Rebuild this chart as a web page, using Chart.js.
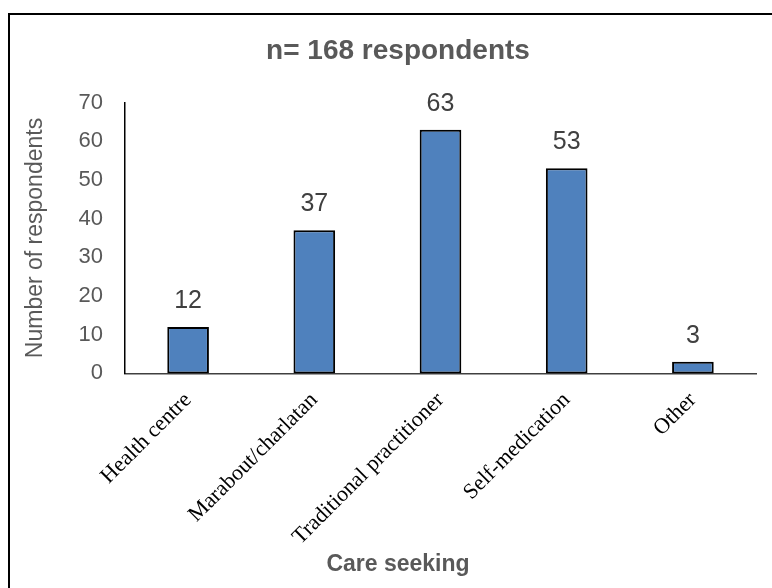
<!DOCTYPE html>
<html>
<head>
<meta charset="utf-8">
<title>Care seeking</title>
<script src="https://cdn.jsdelivr.net/npm/chart.js@4.4.1/dist/chart.umd.min.js"></script>
<style>
  html, body { margin: 0; padding: 0; background: #fff; overflow: hidden; }
  #wrap { position: relative; width: 772px; height: 588px; overflow: hidden; }
  #frame {
    position: absolute; left: 8px; top: 13px; width: 900px; height: 700px;
    border: 2px solid #000; pointer-events: none;
  }
  canvas { position: absolute; left: 0; top: 0; }
</style>
</head>
<body>
<div id="wrap">
  <canvas id="careChart" width="796" height="588"></canvas>
  <div id="frame"></div>
</div>
<script>
// Care seeking behaviour, n = 168
const categories = ['Health centre', 'Marabout/charlatan', 'Traditional practitioner', 'Self-medication', 'Other'];
const respondents = [12, 37, 63, 53, 3];
const yTicks = [0, 10, 20, 30, 40, 50, 60, 70];

const GRAY = '#595959';
const SANS = "'Liberation Sans', Arial, sans-serif";
const SERIF = "'Liberation Serif', 'Times New Roman', serif";

// value printed above each bar
const barValues = {
  id: 'barValues',
  afterDatasetsDraw(chart) {
    const ctx = chart.ctx;
    const meta = chart.getDatasetMeta(0);
    ctx.save();
    ctx.font = '25px ' + SANS;
    ctx.fillStyle = '#404040';
    ctx.textAlign = 'center';
    ctx.textBaseline = 'alphabetic';
    meta.data.forEach((bar, i) => {
      ctx.fillText(String(respondents[i]), bar.x, bar.y - 19);
    });
    ctx.restore();
  }
};

new Chart(document.getElementById('careChart'), {
  type: 'bar',
  data: {
    labels: categories,
    datasets: [{
      data: respondents,
      backgroundColor: '#4F81BD',
      borderColor: '#000',
      borderWidth: 2,
      borderSkipped: false,
      barPercentage: 0.33,
      categoryPercentage: 1
    }]
  },
  options: {
    responsive: false,
    animation: false,
    devicePixelRatio: 1,
    // left/right padding keeps the titles centred on the outer frame
    layout: { padding: { left: 40, right: 40, top: 0, bottom: 0 } },
    plugins: {
      legend: { display: false },
      tooltip: { enabled: false },
      title: {
        display: true,
        text: 'n= 168 respondents',
        color: GRAY,
        font: { family: SANS, size: 28, weight: 'bold' },
        padding: { top: 34, bottom: 35 }
      },
      subtitle: {
        display: true,
        position: 'bottom',
        text: 'Care seeking',
        color: GRAY,
        font: { family: SANS, size: 23, weight: 'bold' },
        padding: { top: 0, bottom: 10 }
      }
    },
    scales: {
      x: {
        grid: { display: false, drawTicks: false },
        border: { display: true, color: '#404040', width: 1.5 },
        ticks: {
          color: '#000',
          font: { family: SERIF, size: 22 },
          minRotation: 45,
          maxRotation: 45,
          autoSkip: false,
          padding: 14
        },
        afterFit(scale) { scale.height = 177; }
      },
      y: {
        min: 0,
        max: 70,
        afterBuildTicks(scale) { scale.ticks = yTicks.map(v => ({ value: v })); },
        grid: { display: false, drawTicks: false },
        border: { display: true, color: '#000', width: 1.5 },
        ticks: {
          color: GRAY,
          font: { family: SANS, size: 22 },
          padding: 22
        },
        title: {
          display: true,
          text: 'Number of respondents',
          color: GRAY,
          font: { family: SANS, size: 23 },
          padding: { top: -18, bottom: 0 }
        },
        afterFit(scale) { scale.width = 85; }
      }
    }
  },
  plugins: [barValues]
});
</script>
</body>
</html>
